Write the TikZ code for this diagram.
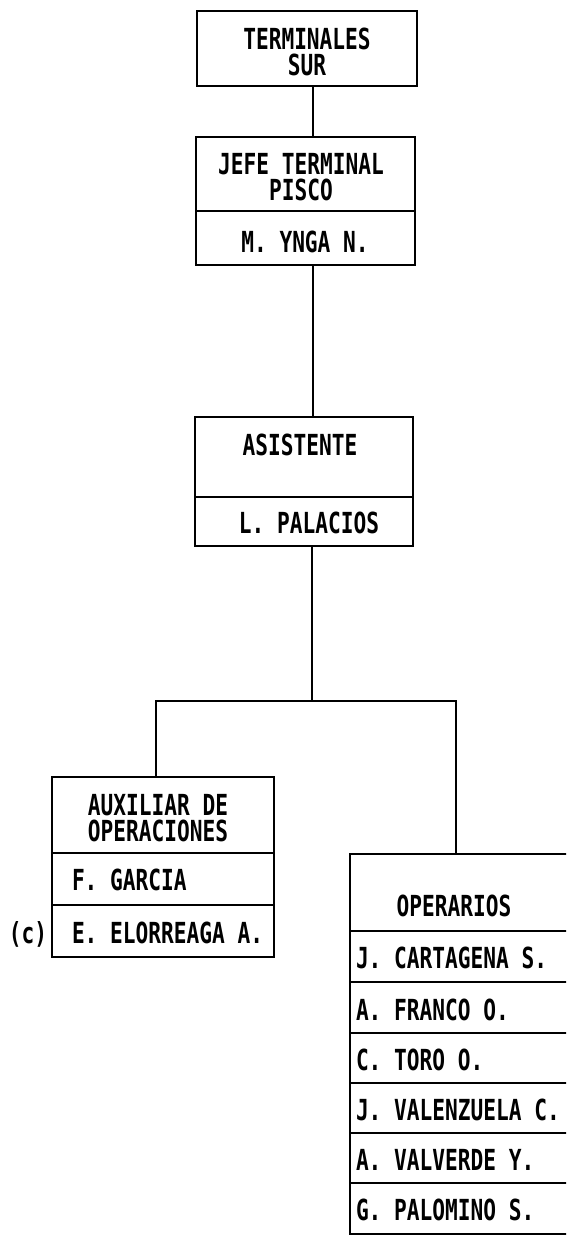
\documentclass[tikz,border=0pt]{standalone}
\usepackage{fontspec}
\newfontfamily\dotfont[FakeStretch=0.73]{DejaVu Sans Mono}
\tikzset{
  box/.style={draw, line width=2pt, rectangle, inner sep=0pt, outer sep=0pt, anchor=north west},
  txt/.style={font=\dotfont\bfseries\fontsize{29}{26}\selectfont, inner sep=0pt, outer sep=0pt},
  ctr/.style={txt, anchor=base, align=center},
  lft/.style={txt, anchor=base west},
  conn/.style={line width=2pt},
  div/.style={line width=2pt}
}
\begin{document}
\begin{tikzpicture}[x=1pt, y=-1pt]
\useasboundingbox (0,0) rectangle (566,1235);
\clip (0,0) rectangle (566,1235);
% boxes
\node[box, minimum width=220pt, minimum height=75pt] (ts) at (197,11) {};
\node[box, minimum width=219pt, minimum height=128pt] (jt) at (196,137) {};
\node[box, minimum width=218pt, minimum height=129pt] (as) at (195,417) {};
\node[box, minimum width=222pt, minimum height=180pt] (ax) at (52,777) {};
\node[box, minimum width=260pt, minimum height=380pt] (op) at (350,854) {};
% dividers
\draw[div] (jt.west |- 0,211) -- (jt.east |- 0,211);
\draw[div] (as.west |- 0,497) -- (as.east |- 0,497);
\draw[div] (ax.west |- 0,853) -- (ax.east |- 0,853);
\draw[div] (ax.west |- 0,905) -- (ax.east |- 0,905);
\foreach \yy in {931,982,1033,1083,1133,1183}
  \draw[div] (op.west |- 0,\yy) -- (op.east |- 0,\yy);
% texts
\node[ctr] (t1) at (307,75) {TERMINALES\\SUR};
\node[ctr] (j1) at (301,200) {JEFE TERMINAL\\PISCO};
\node[ctr] (j3) at (305,252) {M. YNGA N.};
\node[ctr] (a1) at (300,455) {ASISTENTE};
\node[ctr] (a2) at (309,533) {L. PALACIOS};
\node[ctr] (x1) at (158,841) {AUXILIAR DE\\OPERACIONES};
\node[lft] (x3) at (72,890) {F. GARCIA};
\node[lft] (x4) at (72,943) {E. ELORREAGA A.};
\node[lft] (cc) at (9,943) {(c)};
\node[ctr] (o0) at (454,916) {OPERARIOS};
\node[lft] (o1) at (356,968) {J. CARTAGENA S.};
\node[lft] (o2) at (356,1020) {A. FRANCO O.};
\node[lft] (o3) at (356,1070) {C. TORO O.};
\node[lft] (o4) at (356,1120) {J. VALENZUELA C.};
\node[lft] (o5) at (356,1170) {A. VALVERDE Y.};
\node[lft] (o6) at (356,1220) {G. PALOMINO S.};
% connectors
\coordinate (cx) at (313,0);
\coordinate (lx) at (156,0);
\coordinate (rx) at (456,0);
\coordinate (fork) at (312,701);
\draw[conn] (cx |- ts.south) -- (cx |- jt.north);
\draw[conn] (cx |- jt.south) -- (cx |- as.north);
\draw[conn] (fork |- as.south) -- (fork);
\draw[conn] (lx |- ax.north) |- (fork) -| (rx |- op.north);
\end{tikzpicture}
\end{document}
